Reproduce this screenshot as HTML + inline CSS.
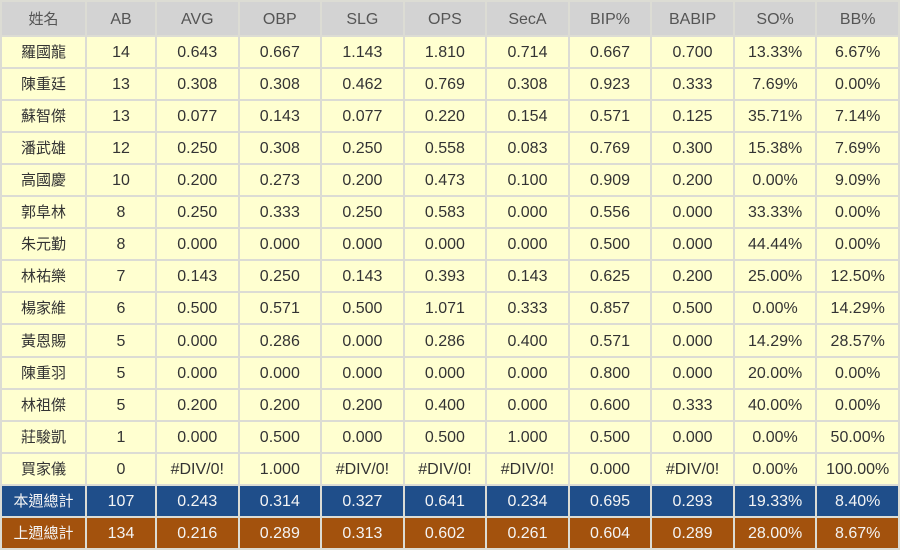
<!DOCTYPE html>
<html><head><meta charset="utf-8"><style>
html,body{margin:0;padding:0;background:#fff;}
table{border-collapse:collapse;table-layout:fixed;width:900px;height:550px;font-family:"Liberation Sans",sans-serif;font-size:16px;color:#333;}
td{border:2px solid #dcdcd4;text-align:center;padding:2px 0 0 0;height:28px;line-height:20px;vertical-align:middle;background:#ffffd0;}
td:first-child{font-family:"Noto Sans CJK TC",sans-serif;font-size:15px;line-height:20px;padding-top:0;height:30px;}
tr.h td{background:#d3d3d3;color:#555;height:31px;}
tr.h td:first-child{height:33px;}
tr.b td{background:#1f4e8a;color:#f4f4f4;}
tr.o td{background:#a3520d;color:#f4f4f4;}
</style></head><body>
<table>
<colgroup><col style="width:85px"><col style="width:70px"><col span="9"></colgroup>
<tr class="h"><td>姓名</td><td>AB</td><td>AVG</td><td>OBP</td><td>SLG</td><td>OPS</td><td>SecA</td><td>BIP%</td><td>BABIP</td><td>SO%</td><td>BB%</td></tr>
<tr><td>羅國龍</td><td>14</td><td>0.643</td><td>0.667</td><td>1.143</td><td>1.810</td><td>0.714</td><td>0.667</td><td>0.700</td><td>13.33%</td><td>6.67%</td></tr>
<tr><td>陳重廷</td><td>13</td><td>0.308</td><td>0.308</td><td>0.462</td><td>0.769</td><td>0.308</td><td>0.923</td><td>0.333</td><td>7.69%</td><td>0.00%</td></tr>
<tr><td>蘇智傑</td><td>13</td><td>0.077</td><td>0.143</td><td>0.077</td><td>0.220</td><td>0.154</td><td>0.571</td><td>0.125</td><td>35.71%</td><td>7.14%</td></tr>
<tr><td>潘武雄</td><td>12</td><td>0.250</td><td>0.308</td><td>0.250</td><td>0.558</td><td>0.083</td><td>0.769</td><td>0.300</td><td>15.38%</td><td>7.69%</td></tr>
<tr><td>高國慶</td><td>10</td><td>0.200</td><td>0.273</td><td>0.200</td><td>0.473</td><td>0.100</td><td>0.909</td><td>0.200</td><td>0.00%</td><td>9.09%</td></tr>
<tr><td>郭阜林</td><td>8</td><td>0.250</td><td>0.333</td><td>0.250</td><td>0.583</td><td>0.000</td><td>0.556</td><td>0.000</td><td>33.33%</td><td>0.00%</td></tr>
<tr><td>朱元勤</td><td>8</td><td>0.000</td><td>0.000</td><td>0.000</td><td>0.000</td><td>0.000</td><td>0.500</td><td>0.000</td><td>44.44%</td><td>0.00%</td></tr>
<tr><td>林祐樂</td><td>7</td><td>0.143</td><td>0.250</td><td>0.143</td><td>0.393</td><td>0.143</td><td>0.625</td><td>0.200</td><td>25.00%</td><td>12.50%</td></tr>
<tr><td>楊家維</td><td>6</td><td>0.500</td><td>0.571</td><td>0.500</td><td>1.071</td><td>0.333</td><td>0.857</td><td>0.500</td><td>0.00%</td><td>14.29%</td></tr>
<tr><td>黃恩賜</td><td>5</td><td>0.000</td><td>0.286</td><td>0.000</td><td>0.286</td><td>0.400</td><td>0.571</td><td>0.000</td><td>14.29%</td><td>28.57%</td></tr>
<tr><td>陳重羽</td><td>5</td><td>0.000</td><td>0.000</td><td>0.000</td><td>0.000</td><td>0.000</td><td>0.800</td><td>0.000</td><td>20.00%</td><td>0.00%</td></tr>
<tr><td>林祖傑</td><td>5</td><td>0.200</td><td>0.200</td><td>0.200</td><td>0.400</td><td>0.000</td><td>0.600</td><td>0.333</td><td>40.00%</td><td>0.00%</td></tr>
<tr><td>莊駿凱</td><td>1</td><td>0.000</td><td>0.500</td><td>0.000</td><td>0.500</td><td>1.000</td><td>0.500</td><td>0.000</td><td>0.00%</td><td>50.00%</td></tr>
<tr><td>買家儀</td><td>0</td><td>#DIV/0!</td><td>1.000</td><td>#DIV/0!</td><td>#DIV/0!</td><td>#DIV/0!</td><td>0.000</td><td>#DIV/0!</td><td>0.00%</td><td>100.00%</td></tr>
<tr class="b"><td>本週總計</td><td>107</td><td>0.243</td><td>0.314</td><td>0.327</td><td>0.641</td><td>0.234</td><td>0.695</td><td>0.293</td><td>19.33%</td><td>8.40%</td></tr>
<tr class="o"><td>上週總計</td><td>134</td><td>0.216</td><td>0.289</td><td>0.313</td><td>0.602</td><td>0.261</td><td>0.604</td><td>0.289</td><td>28.00%</td><td>8.67%</td></tr>
</table>
</body></html>
